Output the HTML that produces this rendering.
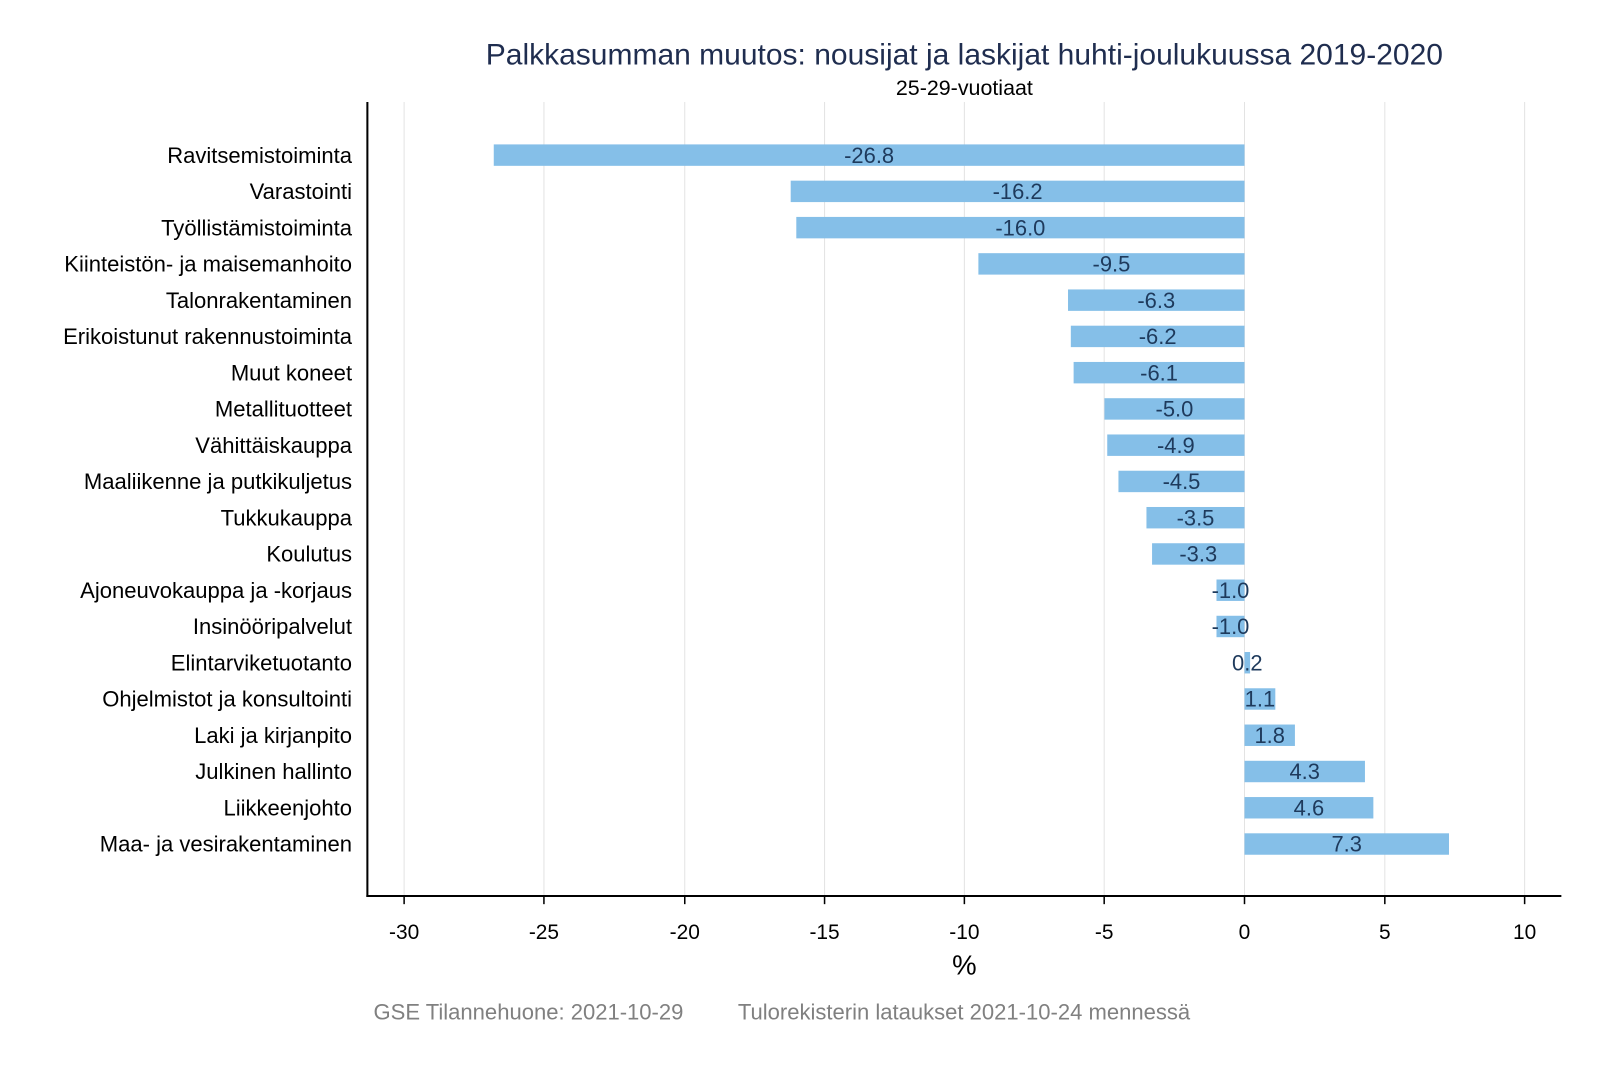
<!DOCTYPE html>
<html><head><meta charset="utf-8"><style>body{margin:0;background:#fff}svg{display:block}text{font-family:"Liberation Sans",Arial,sans-serif}</style></head><body>
<svg width="1600" height="1067" viewBox="0 0 1600 1067" xmlns="http://www.w3.org/2000/svg">
<rect width="1600" height="1067" fill="#fff"/>
<g transform="scale(1.0205)">
<text x="945" y="63" text-anchor="middle" font-size="29.4" fill="#1f2d4f">Palkkasumman muutos: nousijat ja laskijat huhti-joulukuussa 2019-2020</text>
<text x="945" y="93" text-anchor="middle" font-size="21" fill="#000">25-29-vuotiaat</text>
<g stroke="#e3e3e3" stroke-width="1">
<line x1="396" y1="100" x2="396" y2="878"/><line x1="533" y1="100" x2="533" y2="878"/><line x1="671" y1="100" x2="671" y2="878"/><line x1="808" y1="100" x2="808" y2="878"/><line x1="945" y1="100" x2="945" y2="878"/><line x1="1082" y1="100" x2="1082" y2="878"/><line x1="1219.5" y1="100" x2="1219.5" y2="878"/><line x1="1357" y1="100" x2="1357" y2="878"/><line x1="1494" y1="100" x2="1494" y2="878"/>
</g>
<g id="bars" fill="#85bfe8"></g>
<g id="lbl" font-size="21.6" fill="#000" text-anchor="end"></g>
<g id="val" font-size="21.5" fill="#1e3a5c" text-anchor="middle"></g>
<line x1="360" y1="100" x2="360" y2="879" stroke="#000" stroke-width="2"/>
<line x1="359" y1="878" x2="1530" y2="878" stroke="#000" stroke-width="2"/>
<g stroke="#000" stroke-width="1.5">
<line x1="396" y1="878" x2="396" y2="886"/><line x1="533" y1="878" x2="533" y2="886"/><line x1="671" y1="878" x2="671" y2="886"/><line x1="808" y1="878" x2="808" y2="886"/><line x1="945" y1="878" x2="945" y2="886"/><line x1="1082" y1="878" x2="1082" y2="886"/><line x1="1219.5" y1="878" x2="1219.5" y2="886"/><line x1="1357" y1="878" x2="1357" y2="886"/><line x1="1494" y1="878" x2="1494" y2="886"/>
</g>
<g font-size="20.5" text-anchor="middle" fill="#000">
<text x="396" y="920">-30</text><text x="533" y="920">-25</text><text x="671" y="920">-20</text><text x="808" y="920">-15</text><text x="945" y="920">-10</text><text x="1082" y="920">-5</text><text x="1219.5" y="920">0</text><text x="1357" y="920">5</text><text x="1494" y="920">10</text>
</g>
<text x="945" y="955" text-anchor="middle" font-size="27">%</text>
<text x="366" y="999" font-size="21.6" fill="#808080">GSE Tilannehuone: 2021-10-29</text>
<text x="723" y="999" font-size="21.6" fill="#808080">Tulorekisterin lataukset 2021-10-24 mennessä</text>
</g>
<script>
var d=[["Ravitsemistoiminta",-26.8],["Varastointi",-16.2],["Työllistämistoiminta",-16.0],["Kiinteistön- ja maisemanhoito",-9.5],["Talonrakentaminen",-6.3],["Erikoistunut rakennustoiminta",-6.2],["Muut koneet",-6.1],["Metallituotteet",-5.0],["Vähittäiskauppa",-4.9],["Maaliikenne ja putkikuljetus",-4.5],["Tukkukauppa",-3.5],["Koulutus",-3.3],["Ajoneuvokauppa ja -korjaus",-1.0],["Insinööripalvelut",-1.0],["Elintarviketuotanto",0.2],["Ohjelmistot ja konsultointi",1.1],["Laki ja kirjanpito",1.8],["Julkinen hallinto",4.3],["Liikkeenjohto",4.6],["Maa- ja vesirakentaminen",7.3]];
var ns="http://www.w3.org/2000/svg",z=1219.5,s=27.45;
function el(t,a,p,tx){var e=document.createElementNS(ns,t);for(var k in a)e.setAttribute(k,a[k]);if(tx)e.textContent=tx;document.getElementById(p).appendChild(e);}
d.forEach(function(r,i){var y=152+i*35.53,x1=z,x2=z+r[1]*s;
el("rect",{x:Math.min(x1,x2),y:y-10.5,width:Math.abs(x2-x1),height:21},"bars");
el("text",{x:345,y:y+7.5},"lbl",r[0]);
el("text",{x:(x1+x2)/2,y:y+7.5},"val",r[1].toFixed(1));});
</script>
</svg>
</body></html>
